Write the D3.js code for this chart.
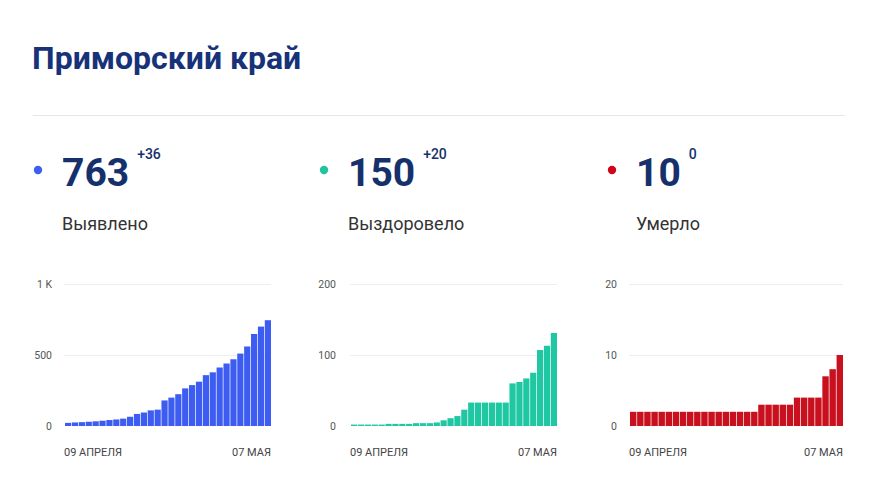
<!DOCTYPE html>
<html>
<head>
<meta charset="utf-8">
<script src="https://cdn.jsdelivr.net/npm/d3@7"></script>
<style>
  body { margin: 0; background: #fff; }
  text { font-family: Roboto, "Noto Sans", sans-serif; }
</style>
</head>
<body>
<div id="visualization"></div>
<script>
const width = 878
const height = 491

/* Data: cumulative counts, 30 days from 09 April to 07 May */
const days = d3.range(30)
const confirmed = [22, 25, 27, 30, 33, 37, 42, 46, 52, 65, 85, 95, 110, 115, 180,
    200, 224, 265, 288, 312, 358, 378, 412, 440, 470, 510, 560, 648, 700, 745]
const recovered = [2, 2, 2, 2, 2, 3, 3, 3, 3, 4, 4, 4, 5, 8, 11,
    14, 23, 33, 33, 33, 33, 33, 33, 60, 62, 67, 75, 107, 113, 131]
const deaths = [2, 2, 2, 2, 2, 2, 2, 2, 2, 2, 2, 2, 2, 2, 2,
    2, 2, 2, 3, 3, 3, 3, 3, 4, 4, 4, 4, 7, 8, 10]

const totals = ['763', '150', '10']
const deltas = ['+36', '+20', '0']
const labels = ['Выявлено', 'Выздоровело', 'Умерло']
const yTicks = [[0, 500, 1000], [0, 100, 200], [0, 10, 20]]
const xLabels = ['09 АПРЕЛЯ', '07 МАЯ']

const colors = ['#3c5cf2', '#1fc8a2', '#c9101f']
const dotColors = ['#3d5ff0', '#22c4a0', '#d0061c']

const panels = [
    { values: confirmed, x0: 65, x1: 271, tickX: 52, fmt: d => d >= 1000 ? '1 K' : d },
    { values: recovered, x0: 351, x1: 557, tickX: 336, fmt: d => d },
    { values: deaths, x0: 630, x1: 843, tickX: 617, fmt: d => d }
]
const statX = [62, 348, 636]

const svg = d3.select('#visualization').append('svg')
    .attr('width', width).attr('height', height)

/* Header */
svg.append('text')
    .attr('x', 32).attr('y', 69)
    .attr('font-size', 32).attr('font-weight', 700)
    .attr('fill', '#18327a')
    .text('Приморский край')

svg.append('line')
    .attr('x1', 33).attr('x2', 845)
    .attr('y1', 115.5).attr('y2', 115.5)
    .attr('stroke', '#e6e6e6')

panels.forEach((p, i) => {
    /* Stat block */
    const sx = statX[i]
    svg.append('circle')
        .attr('cx', sx - 24).attr('cy', 170).attr('r', 4.2)
        .attr('fill', dotColors[i])

    const big = svg.append('text')
        .attr('x', sx).attr('y', 186)
        .attr('font-size', 39).attr('font-weight', 700)
        .attr('fill', '#16306c')
        .text(totals[i])

    const bw = big.node().getComputedTextLength()
    svg.append('text')
        .attr('x', sx + bw + 8).attr('y', 159)
        .attr('font-size', 14).attr('font-weight', 500)
        .attr('fill', '#16306c')
        .text(deltas[i])

    svg.append('text')
        .attr('x', sx).attr('y', 230)
        .attr('font-size', 18)
        .attr('fill', '#333')
        .text(labels[i])

    /* Bar chart */
    const x = d3.scaleBand().domain(days).range([p.x0, p.x1]).paddingInner(0.1)
    const y = d3.scaleLinear().domain([0, yTicks[i][2]]).range([426, 284])

    const g = svg.append('g')

    g.selectAll('line.grid')
        .data(yTicks[i].slice(1))
        .join('line')
        .attr('class', 'grid')
        .attr('x1', p.x0 - 1).attr('x2', p.x1)
        .attr('y1', d => Math.round(y(d)) + 0.5).attr('y2', d => Math.round(y(d)) + 0.5)
        .attr('stroke', '#eeeeee')

    g.selectAll('text.ytick')
        .data(yTicks[i])
        .join('text')
        .attr('class', 'ytick')
        .attr('x', p.tickX).attr('y', d => y(d))
        .attr('dy', '0.35em')
        .attr('text-anchor', 'end')
        .attr('font-size', 10.5)
        .attr('fill', '#555')
        .text(p.fmt)

    g.selectAll('rect')
        .data(p.values)
        .join('rect')
        .attr('x', (d, j) => x(j))
        .attr('width', x.bandwidth())
        .attr('y', d => y(d))
        .attr('height', d => y(0) - y(d))
        .attr('fill', colors[i])

    g.append('text')
        .attr('x', p.x0 - 1).attr('y', 452)
        .attr('dy', '0.35em')
        .attr('font-size', 11)
        .attr('fill', '#444')
        .text(xLabels[0])

    g.append('text')
        .attr('x', p.x1).attr('y', 452)
        .attr('dy', '0.35em')
        .attr('text-anchor', 'end')
        .attr('font-size', 11)
        .attr('fill', '#444')
        .text(xLabels[1])
})
</script>
</body>
</html>
